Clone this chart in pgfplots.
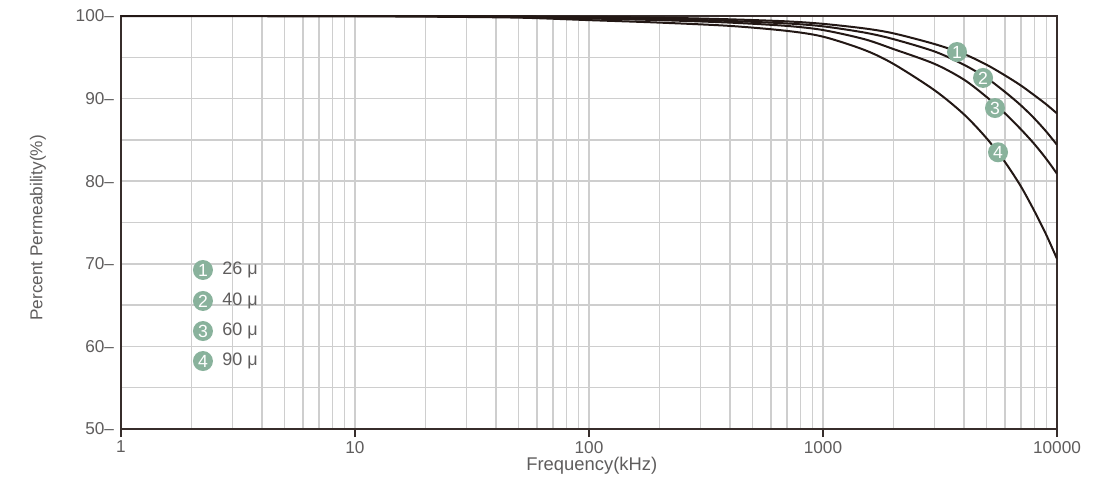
\documentclass[border=0pt]{standalone}
\usepackage{pgfplots}
\usepackage{pgfplotstable}
\pgfplotsset{compat=1.18}
\usepackage{fontspec}
\setmainfont{Liberation Sans}
\definecolor{txt}{RGB}{95,93,93}
\definecolor{crv}{RGB}{35,24,21}
\definecolor{grd}{RGB}{206,206,206}
\definecolor{sage}{RGB}{137,178,156}
\definecolor{axl}{RGB}{55,45,43}

\pgfplotstableread{
f c1 c2 c3 c4
1 100 100 100 100
10 100 100 100 99.95
20 100 100 99.98 99.92
50 99.95 99.93 99.88 99.8
100 99.9 99.8 99.7 99.5
200 99.8 99.65 99.5 99.2
400 99.6 99.4 99.2 98.8
700 99.35 99.1 98.8 98.2
1000 99.05 98.75 98.3 97.5
1500 98.5 98.0 97.2 95.9
2000 97.9 97.2 96.0 94.2
3000 96.6 95.7 94.2 91.0
4000 95.4 94.1 92.3 88.1
5000 94.1 92.5 90.2 85.2
6000 92.8 90.8 88.2 82.3
7000 91.6 89.2 86.3 79.4
8000 90.4 87.6 84.5 76.4
9000 89.3 86.0 82.7 73.5
10000 88.2 84.4 80.9 70.6
}\data

\tikzset{num/.style={circle, fill=sage, text=white, inner sep=0pt, minimum size=10pt, font=\fontsize{8.8}{9}\selectfont},
 leg/.style={anchor=west, inner sep=0pt, text=txt, font=\fontsize{9}{10}\selectfont}}

\begin{document}
\begin{tikzpicture}
\begin{axis}[
 scale only axis, width=468pt, height=206.5pt,
 xmode=log, xmin=1, xmax=10000, ymin=50, ymax=100,
 xtick={1,10,100,1000,10000}, xticklabels={1,10,100,1000,10000},
 ytick={50,60,70,80,90,100}, yticklabels={50--,60--,70--,80--,90--,100--},
 minor ytick={55,65,75,85,95},
 xtick pos=bottom, ytick pos=left,
 grid=both,
 major grid style={grd, line width=0.75pt},
 minor grid style={grd, line width=0.75pt},
 axis line style={axl, line width=1pt},
 tick align=outside,
 major tick length=4pt,
 minor tick length=0pt,
 xtick style={axl, line width=1pt},
 ytick style={draw=none},
 tick label style={font=\fontsize{8.6}{9}\selectfont, text=txt},
 xticklabel style={yshift=1.5pt},
 yticklabel style={xshift=4pt},
 xlabel={Frequency(kHz)}, ylabel={Percent Permeability(\%)},
 xlabel style={font=\fontsize{9.2}{10}\selectfont, text=txt, at={(axis description cs:0.503,-0.0896)}, anchor=center},
 ylabel style={font=\fontsize{8.6}{10}\selectfont, text=txt, at={(axis description cs:-0.0887,0.487)}, anchor=center},
]
\addplot[crv, line width=1pt, smooth, no markers] table[x=f,y=c1]{\data};
\addplot[crv, line width=1pt, smooth, no markers] table[x=f,y=c2]{\data};
\addplot[crv, line width=1pt, smooth, no markers] table[x=f,y=c3]{\data};
\addplot[crv, line width=1pt, smooth, no markers] table[x=f,y=c4]{\data};

\node[num] at (axis cs:3740,95.64) {1};
\node[num] at (axis cs:4830,92.5) {2};
\node[num] at (axis cs:5433,88.86) {3};
\node[num] at (axis cs:5597,83.5) {4};

\node[num] at (axis cs:2.24,69.25) {1};
\node[num] at (axis cs:2.24,65.5) {2};
\node[num] at (axis cs:2.24,61.86) {3};
\node[num] at (axis cs:2.24,58.23) {4};
\node[leg] at (axis cs:2.24,69.25) [xshift=9.5pt] {26 μ};
\node[leg] at (axis cs:2.24,65.5) [xshift=9.5pt] {40 μ};
\node[leg] at (axis cs:2.24,61.86) [xshift=9.5pt] {60 μ};
\node[leg] at (axis cs:2.24,58.23) [xshift=9.5pt] {90 μ};
\end{axis}
\pgfresetboundingbox
\path[use as bounding box] ([shift={(-60.5pt,-28.5pt)}]current axis.south west) rectangle ([shift={(25pt,8pt)}]current axis.north east);
\end{tikzpicture}
\end{document}
